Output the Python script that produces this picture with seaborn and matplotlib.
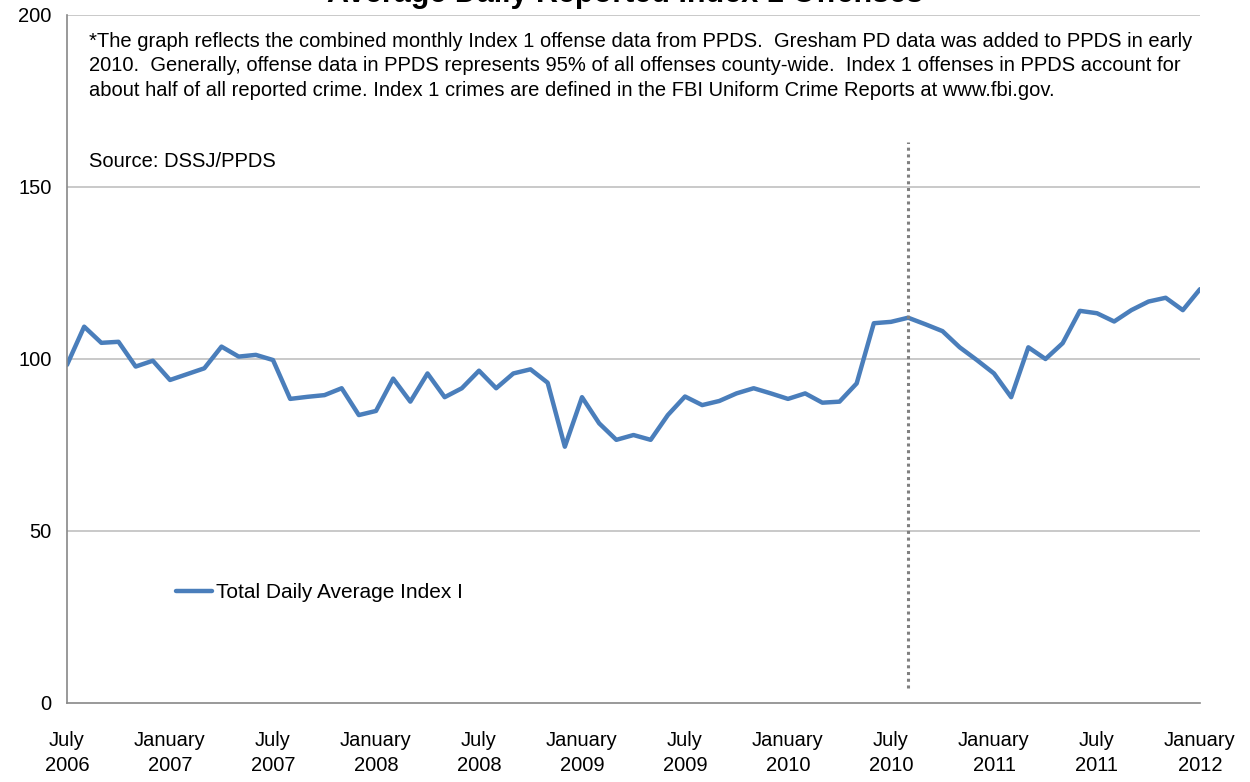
import matplotlib
matplotlib.use("Agg")
import matplotlib.pyplot as plt
import seaborn as sns
import pandas as pd
import numpy as np

# ---- data ----
values = [98.3, 109.4, 104.7, 105.0, 97.8, 99.5, 93.9, 95.6, 97.3, 103.6, 100.7, 101.2,
          99.7, 88.4, 89.0, 89.5, 91.5, 83.7, 84.9, 94.3, 87.6, 95.8, 88.9, 91.5,
          96.6, 91.5, 95.8, 97.0, 93.1, 74.5, 88.9, 81.3, 76.5, 77.9, 76.5, 83.7,
          89.1, 86.6, 87.8, 90.0, 91.5, 90.0, 88.4, 90.0, 87.3, 87.6, 92.9, 110.4,
          110.8, 112.0, 110.1, 108.1, 103.4, 99.7, 95.8, 88.9, 103.4, 100.0, 104.6, 114.0,
          113.3, 110.9, 114.2, 116.7, 117.8, 114.2, 120.3]
series_name = "Total Daily Average Index I"
tick_labels = ["July\n2006", "January\n2007", "July\n2007", "January\n2008", "July\n2008",
               "January\n2009", "July\n2009", "January\n2010", "July\n2010", "January\n2011",
               "July\n2011", "January\n2012"]
y_ticks = [0, 50, 100, 150, 200]
marker_month_index = 49  # Aug 2010 dotted line
marker_range = [4.4, 163]
title = "Average Daily Reported Index 1 Offenses"
note = ("*The graph reflects the combined monthly Index 1 offense data from PPDS.  Gresham PD data was added to PPDS in early\n"
        "2010.  Generally, offense data in PPDS represents 95% of all offenses county-wide.  Index 1 offenses in PPDS account for\n"
        "about half of all reported crime. Index 1 crimes are defined in the FBI Uniform Crime Reports at www.fbi.gov.")
source = "Source: DSSJ/PPDS"

df = pd.DataFrame({"month": np.arange(len(values)), "value": values, "series": series_name})

sns.set_theme(style="white")
plt.rcParams["font.family"] = ["Liberation Sans", "DejaVu Sans"]
plt.rcParams["text.color"] = "black"

fig = plt.figure(figsize=(12.5, 7.82), dpi=100)
ax = fig.add_axes([67/1250, 1 - 703/782, (1200-67)/1250, (703-15)/782])

sns.lineplot(data=df, x="month", y="value", hue="series", palette=["#4a7ebb"],
             linewidth=3.2, ax=ax, legend=True)

ax.set_xlim(0, len(values) - 1)
ax.set_ylim(0, 200)
ax.set_yticks(y_ticks)
ax.set_yticklabels([str(v) for v in y_ticks])
ax.set_xticks(np.arange(0, len(values), 6))
ax.set_xticklabels(tick_labels, linespacing=1.4)
ax.set_xlabel("")
ax.set_ylabel("")
for v in y_ticks[1:]:
    ax.axhline(v, color="#c0c0c0", linewidth=1.2, zorder=0)
ax.tick_params(axis="both", labelsize=14.5, colors="#000000", length=5, width=1, direction="out")
ax.tick_params(axis="x", pad=15)
ax.tick_params(axis="y", pad=6)
ax.xaxis.set_tick_params(color="#888888")
ax.yaxis.set_tick_params(color="#888888")
for s in ["top", "right"]:
    ax.spines[s].set_visible(False)
for s in ["left", "bottom"]:
    ax.spines[s].set_color("#888888")
    ax.spines[s].set_linewidth(1.2)

ax.vlines(marker_month_index, marker_range[0], marker_range[1], colors="#808080",
          linestyles=(0, (1, 1.2)), linewidth=2.2)

ax.text(1.3, 195, note, fontsize=14.5, va="top", ha="left", linespacing=1.35, color="black")
ax.text(1.3, 157.5, source, fontsize=14.5, va="center", ha="left", color="black")

leg = ax.legend(loc="center left", bbox_to_anchor=(0.08, 0.16), frameon=False,
                fontsize=15, handlelength=1.7, handletextpad=0.2)
for t in leg.get_texts():
    t.set_color("black")

fig.text(0.5, 0.997, title, fontsize=22, fontweight="bold", ha="center", va="baseline", color="black")

fig.savefig("out.png", dpi=100)
